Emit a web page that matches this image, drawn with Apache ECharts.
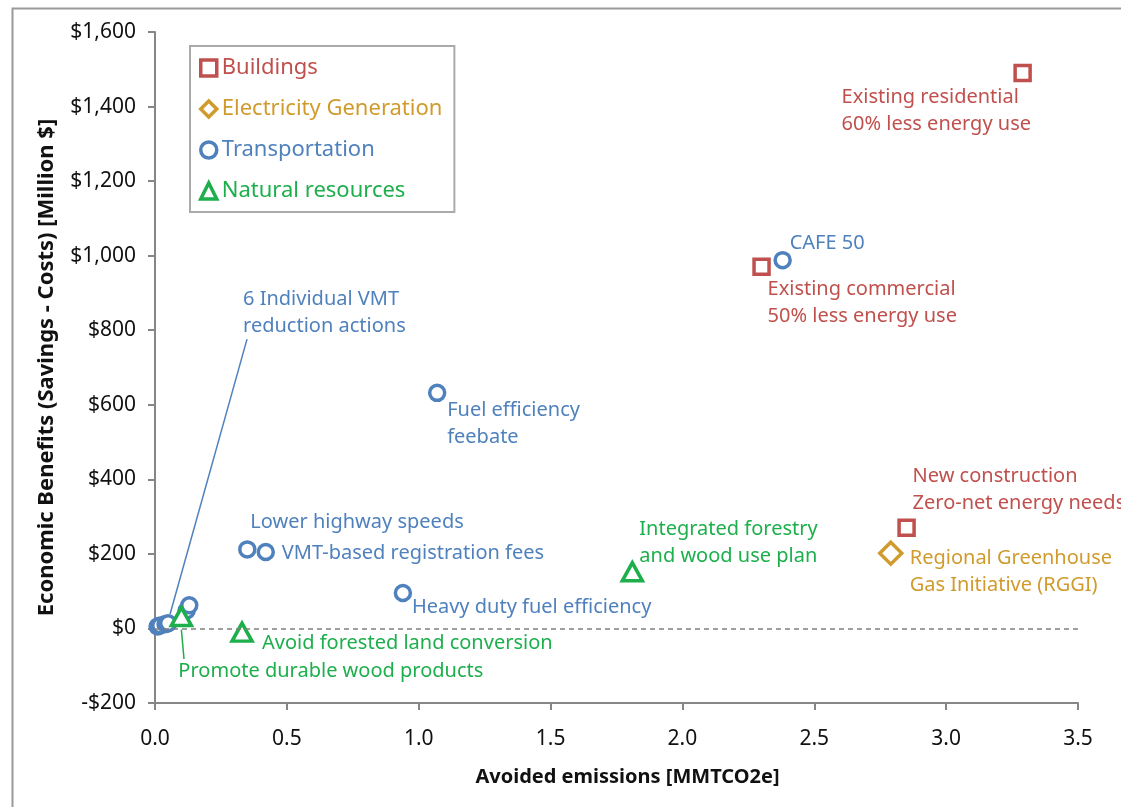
<!DOCTYPE html>
<html>
<head>
<meta charset="utf-8">
<script src="https://cdn.jsdelivr.net/npm/echarts@6/dist/echarts.min.js"></script>
<style>html,body{margin:0;padding:0;background:#fff}#c{width:1121px;height:807px}</style>
</head>
<body>
<div id="c"></div>
<script>
// ---- data ----
const buildingNames = ["Existing residential\n60% less energy use", "Existing commercial\n50% less energy use", "New construction\nZero-net energy needs"];
const buildingX = [3.29, 2.30, 2.85];
const buildingY = [1490, 970, 270];

const electricityNames = ["Regional Greenhouse\nGas Initiative (RGGI)"];
const electricityX = [2.79];
const electricityY = [202];

const transportNames = ["CAFE 50", "Fuel efficiency\nfeebate", "Lower highway speeds", "VMT-based registration fees", "Heavy duty fuel efficiency", "", "", "", "", "", ""];
const transportX = [2.38, 1.07, 0.35, 0.42, 0.94, 0.01, 0.02, 0.04, 0.05, 0.12, 0.13];
const transportY = [988, 632, 212, 205, 95, 5, 8, 12, 14, 48, 62];

const naturalNames = ["Integrated forestry\nand wood use plan", "Avoid forested land conversion", "Promote durable wood products"];
const naturalX = [1.81, 0.33, 0.10];
const naturalY = [152, -10, 32];

const vmtGroupLabel = "6 Individual VMT\nreduction actions";
const vmtLeader = [[0.349, 776], [0.057, 38]];
const woodLeader = [[0.10, -3], [0.11, -82]];

const yTicks = { min: -200, max: 1600, interval: 200 };
const xTicks = { min: 0, max: 3.5, interval: 0.5 };

// ---- styling (not data) ----
const C = { red: '#C0504D', gold: '#D09B2C', blue: '#4F81BD', green: '#1DAF4C' };
const FONT = '"Noto Sans", "DejaVu Sans", sans-serif';
const LABEL_SIZE = 20;
const labelOffsets = {
  "Existing residential\n60% less energy use": [-181, 38],
  "Existing commercial\n50% less energy use": [6, 36],
  "New construction\nZero-net energy needs": [6, -38],
  "Regional Greenhouse\nGas Initiative (RGGI)": [19, 19],
  "CAFE 50": [7, -17],
  "Fuel efficiency\nfeebate": [10, 31],
  "Lower highway speeds": [3, -27],
  "VMT-based registration fees": [16, 1],
  "Heavy duty fuel efficiency": [9, 14],
  "Integrated forestry\nand wood use plan": [7, -29],
  "Avoid forested land conversion": [20, 11],
  "Promote durable wood products": [-3, 55]
};

function makeData(names, xs, ys, color) {
  return xs.map((x, i) => {
    const name = names[i] || '';
    const item = { value: [x, ys[i]], name: name };
    if (name) {
      item.label = {
        show: true, formatter: name, position: 'inside', align: 'left', verticalAlign: 'middle',
        offset: labelOffsets[name] || [0, 0], color: color, fontSize: LABEL_SIZE, lineHeight: 27, fontFamily: FONT
      };
    }
    return item;
  });
}

function scatter(name, symbol, size, color, data, extra) {
  return Object.assign({
    name: name, type: 'scatter', symbol: symbol, symbolSize: size,
    itemStyle: { color: '#fff', borderColor: color, borderWidth: 3.5, opacity: 1 },
    label: { show: false },
    emphasis: { disabled: true },
    data: data
  }, extra || {});
}

const chart = echarts.init(document.getElementById('c'), null, { renderer: 'canvas' });
const option = {
  animation: false,
  backgroundColor: '#fff',
  graphic: [{
    type: 'rect', left: 10, top: 6, z: -10, silent: true,
    shape: { width: 1300, height: 900 },
    style: { fill: 'none', stroke: '#9a9a9a', lineWidth: 2 }
  }],
  grid: { left: 155, right: 43, top: 32, bottom: 104, containLabel: false },
  xAxis: {
    type: 'value', min: xTicks.min, max: xTicks.max, interval: xTicks.interval,
    name: 'Avoided emissions [MMTCO2e]', nameLocation: 'middle', nameGap: 64,
    nameTextStyle: { fontFamily: FONT, fontWeight: 'bold', fontSize: 20, color: '#111', padding: [0, 0, 0, 22] },
    axisLine: { onZero: false, lineStyle: { color: '#868686', width: 2 } },
    axisTick: { show: true, length: 7, lineStyle: { color: '#868686', width: 2 } },
    axisLabel: { margin: 26, fontFamily: FONT, fontSize: 21, color: '#111', formatter: v => v.toFixed(1) },
    splitLine: { show: false }
  },
  yAxis: {
    type: 'value', min: yTicks.min, max: yTicks.max, interval: yTicks.interval,
    name: 'Economic Benefits (Savings - Costs) [Million $]', nameLocation: 'middle', nameGap: 97, nameRotate: 90,
    nameTextStyle: { fontFamily: FONT, fontWeight: 'bold', fontSize: 22, color: '#111' },
    axisLine: { show: true, onZero: false, lineStyle: { color: '#868686', width: 2 } },
    axisTick: { show: true, length: 7, lineStyle: { color: '#868686', width: 2 } },
    axisLabel: { margin: 19, fontFamily: FONT, fontSize: 21, color: '#111',
      formatter: v => (v < 0 ? '-' : '') + '$' + Math.abs(v).toLocaleString('en-US') },
    splitLine: { show: false }
  },
  legend: {
    orient: 'vertical', left: 190, top: 46,
    padding: [9, 12, 8, 9], itemGap: 15, itemWidth: 16, itemHeight: 16,
    borderColor: '#aaaaaa', borderWidth: 2, backgroundColor: '#fff',
    textStyle: { fontFamily: FONT, fontSize: 22, lineHeight: 26 },
    data: [
      { name: 'Buildings', icon: 'rect', itemStyle: { color: '#fff', borderColor: C.red, borderWidth: 3.5 }, textStyle: { color: C.red } },
      { name: 'Electricity Generation', icon: 'diamond', itemStyle: { color: '#fff', borderColor: C.gold, borderWidth: 3.5 }, textStyle: { color: C.gold } },
      { name: 'Transportation', icon: 'circle', itemStyle: { color: '#fff', borderColor: C.blue, borderWidth: 3.5 }, textStyle: { color: C.blue } },
      { name: 'Natural resources', icon: 'triangle', itemStyle: { color: '#fff', borderColor: C.green, borderWidth: 3.5 }, textStyle: { color: C.green } }
    ]
  },
  series: [
    scatter('Buildings', 'rect', 15, C.red, makeData(buildingNames, buildingX, buildingY, C.red), {
      markLine: {
        silent: true, symbol: 'none', label: { show: false },
        lineStyle: { color: '#808080', type: [5, 4], width: 1.5 },
        data: [{ yAxis: 0 }]
      }
    }),
    scatter('Electricity Generation', 'diamond', 22, C.gold, makeData(electricityNames, electricityX, electricityY, C.gold)),
    scatter('Transportation', 'circle', 15, C.blue, makeData(transportNames, transportX, transportY, C.blue), {
      markLine: {
        silent: true, symbol: 'none', label: { show: false },
        lineStyle: { color: C.blue, type: 'solid', width: 1.5 },
        data: [[{ coord: vmtLeader[0] }, { coord: vmtLeader[1] }]]
      },
      markPoint: {
        silent: true, symbol: 'circle', symbolSize: 1, itemStyle: { color: 'rgba(0,0,0,0)' },
        data: [{ coord: vmtLeader[0], label: {
          show: true, formatter: vmtGroupLabel,
          position: 'inside', align: 'left', verticalAlign: 'middle', offset: [-4, -26],
          color: C.blue, fontSize: LABEL_SIZE, lineHeight: 27, fontFamily: FONT } }]
      }
    }),
    scatter('Natural resources', 'triangle', [20, 18], C.green, makeData(naturalNames, naturalX, naturalY, C.green), {
      markLine: {
        silent: true, symbol: 'none', label: { show: false },
        lineStyle: { color: C.green, type: 'solid', width: 1.5 },
        data: [[{ coord: woodLeader[0] }, { coord: woodLeader[1] }]]
      }
    })
  ]
};
chart.setOption(option);
</script>
</body>
</html>
